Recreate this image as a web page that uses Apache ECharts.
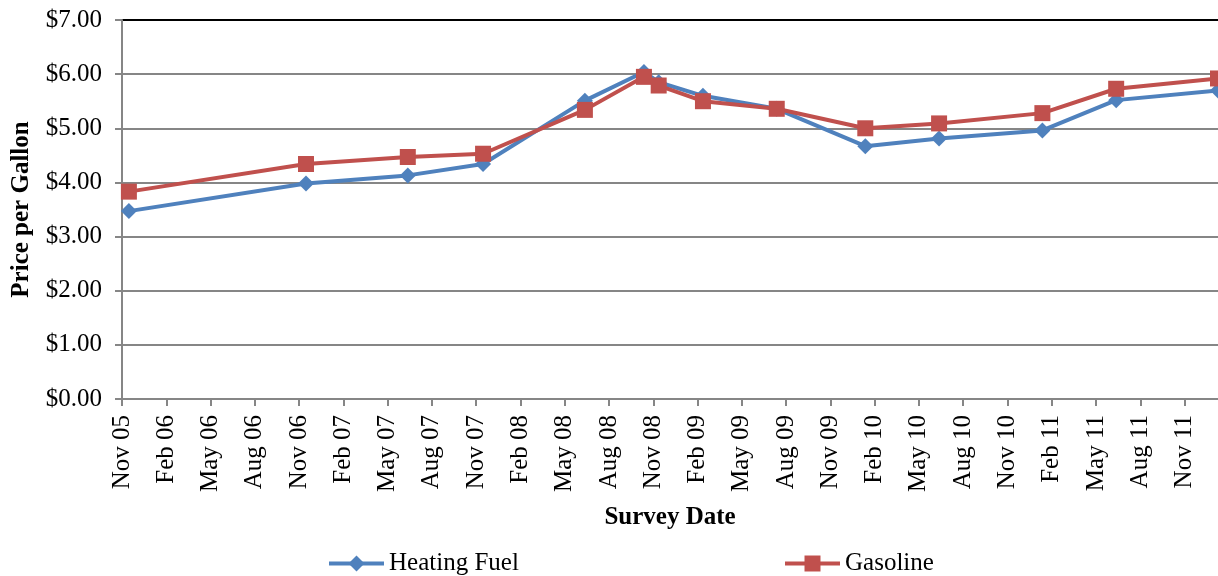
<!DOCTYPE html>
<html>
<head>
<meta charset="utf-8">
<script src="https://cdn.jsdelivr.net/npm/echarts@6/dist/echarts.min.js"></script>
<style>
html,body{margin:0;padding:0;background:#fff;}
#chart{width:1218px;height:576px;}
</style>
</head>
<body>
<div id="chart"></div>
<script>
// Survey dates (mid-month surveys)
const surveyDates = ['2005-11-15','2006-11-15','2007-06-12','2007-11-15','2008-06-12','2008-10-12','2008-11-12','2009-02-12','2009-07-12','2010-01-12','2010-06-12','2011-01-12','2011-06-12','2012-01-09'];
const heatingFuel = [3.47, 3.98, 4.13, 4.34, 5.51, 6.04, 5.85, 5.60, 5.36, 4.67, 4.81, 4.96, 5.52, 5.70];
const gasoline    = [3.83, 4.34, 4.47, 4.53, 5.34, 5.95, 5.79, 5.50, 5.36, 5.00, 5.09, 5.28, 5.73, 5.92];
const tickLabels = ['Nov 05','Feb 06','May 06','Aug 06','Nov 06','Feb 07','May 07','Aug 07','Nov 07','Feb 08','May 08','Aug 08','Nov 08','Feb 09','May 09','Aug 09','Nov 09','Feb 10','May 10','Aug 10','Nov 10','Feb 11','May 11','Aug 11','Nov 11'];

// months since 1 Nov 2005
function monthIndex(s){
  const [y,m,d] = s.split('-').map(Number);
  return (y-2005)*12 + (m-11) + (d-1)/30;
}
const xs = surveyDates.map(monthIndex);
const xMax = xs[xs.length-1];

const font = 'Liberation Serif';
const legendText = {fontFamily:font, fontSize:25, color:'#000'};
const chart = echarts.init(document.getElementById('chart'), null, {renderer:'canvas'});
chart.setOption({
  animation:false,
  backgroundColor:'#fff',
  textStyle:{fontFamily:font},
  grid:{left:122, right:0, top:20, bottom:177, containLabel:false, outerBoundsMode:'none'},
  legend:[
    {left:322, top:546, itemWidth:55, itemHeight:20, itemGap:0,
     lineStyle:{width:4}, textStyle:legendText, data:['Heating Fuel']},
    {left:778, top:546, itemWidth:55, itemHeight:20, itemGap:0,
     lineStyle:{width:4}, textStyle:legendText, data:['Gasoline']}
  ],
  xAxis:{
    type:'value', min:0, max:xMax, interval:3,
    name:'Survey Date', nameLocation:'middle', nameGap:106,
    nameTextStyle:{fontFamily:font, fontSize:25, fontWeight:'bold', color:'#000'},
    axisLine:{lineStyle:{color:'#868686', width:2}},
    axisTick:{show:true, length:7, lineStyle:{color:'#868686', width:2}},
    axisLabel:{rotate:90, margin:16, fontFamily:font, fontSize:25, color:'#000',
      showMaxLabel:false,
      formatter:function(v){ const i=Math.round(v/3); return (Math.abs(v-i*3)<1e-6 && tickLabels[i]) ? tickLabels[i] : ''; }},
    splitLine:{show:false}
  },
  yAxis:{
    type:'value', min:0, max:7, interval:1,
    name:'Price per Gallon', nameLocation:'middle', nameGap:88,
    nameTextStyle:{fontFamily:font, fontSize:25, fontWeight:'bold', color:'#000'},
    axisLine:{show:true, lineStyle:{color:'#868686', width:2}},
    axisTick:{show:true, length:7, lineStyle:{color:'#868686', width:2}},
    axisLabel:{margin:20, fontFamily:font, fontSize:25, color:'#000',
      formatter:function(v){ return '$'+v.toFixed(2); }},
    splitLine:{show:true, lineStyle:{color:['#868686','#868686','#868686','#868686','#868686','#868686','#868686','#000000'], width:2}}
  },
  series:[
    {name:'Heating Fuel', type:'line', data:xs.map((x,i)=>[x,heatingFuel[i]]),
     color:'#4F81BD', symbol:'diamond', symbolSize:16, lineStyle:{width:4}, itemStyle:{color:'#4F81BD'}, clip:false},
    {name:'Gasoline', type:'line', data:xs.map((x,i)=>[x,gasoline[i]]),
     color:'#C0504D', symbol:'rect', symbolSize:16, lineStyle:{width:4}, itemStyle:{color:'#C0504D'}, clip:false}
  ]
});
</script>
</body>
</html>
